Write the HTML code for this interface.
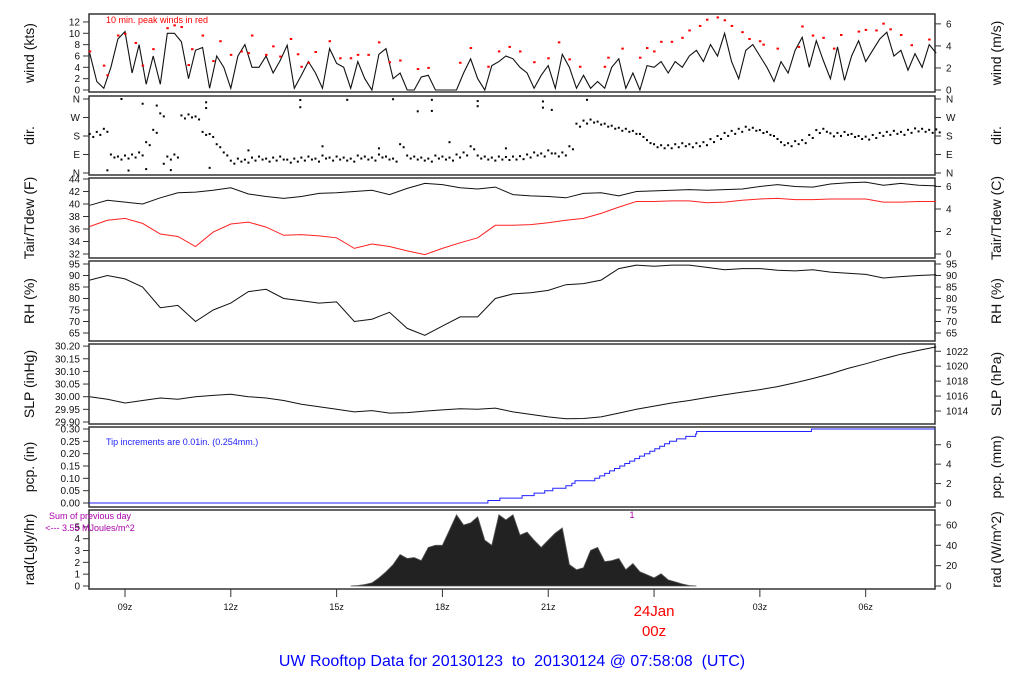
<!DOCTYPE html>
<html><head><meta charset="utf-8"><style>
html,body{margin:0;padding:0;background:#fff;}
svg{display:block;font-family:"Liberation Sans",sans-serif;}
text{white-space:pre;}
</style></head><body>
<svg id="chart" width="1024" height="700" viewBox="0 0 1024 700" xmlns="http://www.w3.org/2000/svg"></svg>
<script>
// ---- data (hours since 00z Jan 23) ----
const windStart = 8.0, windStep = 0.2;
const windKts = [6.5,1.5,0.3,4,9, 10.3,3,8,1,6, 1,10,10,8.5,2, 7,7.5,0.3,6,4, 0.3,6,8,4,4, 6,3,5.2,7.9,0.3,
 2.6,5,3,0.3,7.3, 4.7,4,0.3,5,2, 0,6.3,7.3,2,3, 0,0,2.3,2.6,0, 0,0,0,3,5.5, 2,0,4.3,5,6, 5.5,4,3,0.3,2.6,
 4.3,0.3,6.3,4,0.3, 2.6,0.3,1.5,0.3,4, 5.5,0.3,3,0,4.3, 4,5,3,5,4, 6,7,5,8,6, 10,5,2,7,8, 6,4,1.5,5,3,
 7,9.3,4,8.7,5.2, 2,7.6,1.7,6,8.7, 5,7,9,10.2,6, 7,3.5,6.4,4,8, 6.5];
const peakHours = [8.0,8.4,8.5,8.8,9.0,9.3,9.5,9.8,10.2,10.4,10.6,10.8,10.9,11.2,11.5,11.7,12.0,12.3,12.5,12.6,13.0,13.2,13.4,13.7,13.9,
 14.0,14.2,14.4,14.8,15.1,15.4,15.6,15.9,16.2,16.5,16.8,17.3,17.6,18.5,18.8,19.3,19.6,19.9,20.2,20.6,21.0,21.3,21.6,21.9,22.6,22.7,23.1,23.6,23.8,24.0,24.2,
 24.5,24.8,25.0,25.3,25.5,25.8,26.0,26.2,26.5,26.7,27.0,27.1,27.5,28.1,28.2,28.5,28.8,29.1,29.3,29.8,30.0,30.3,30.5,30.7,31.0,31.3,31.8];
const peakKts = [6.8,4.3,2.6,9.6,9.9,8.3,4.3,7.2,10.9,11.4,11.1,4.4,7.2,9.6,5.1,8.6,6.2,6.8,6.5,9.6,6.2,7.7,5.9,9.0,6.3,
 4.1,4.8,6.7,8.6,5.6,5.6,6.2,6.2,8.4,4.9,5.2,3.7,3.9,4.8,7.4,4.1,6.8,7.6,6.8,4.9,5.6,8.4,5.4,4.1,4.1,5.7,7.3,5.7,7.4,6.8,8.5,
 8.5,9.2,10.5,11.3,12.4,12.8,12.3,11.3,10.2,9.0,8.6,8.0,7.3,7.6,11.2,9.6,9.2,7.3,9.7,10.3,10.6,10.5,11.7,10.7,9.7,7.9,8.9];
const dirDeg = [190,200,215,90,80, 85,90,100,150,210, 290,80,90,280,285, 275,200,190,140,100, 60,70,65,75,80,
 70,75,80,65,70, 75,80,70,85,75, 80,75,70,85,80, 75,90,80,70,140, 85,80,75,70,85, 80,75,90,100,130,
 85,80,75,80,78, 80,82,90,100,95, 110,95,100,130,240, 255,260,250,240,230, 220,215,205,190,160,
 140,135,135,140,145, 140,145,150,165,180, 195,205,215,225,220, 209,200,180,150,145, 155,160,185,209,215,
 193,195,200,190,180, 177,185,195,200,205, 200,210,217,215,210, 212];
const dirOutHours = [8.9,9.5,9.9,11.3,11.3,13.97,13.97,15.3,16.6,17.3,17.7,17.7,19.0,19.0,20.85,20.85,21.1,22.1,8.5,9.1,10.3,9.6,11.4,10.1,12.5,14.6,16.2,18.2,19.8];
const dirOutDeg  = [360,337,328,344,316,355,320,356,359,300,356,302,350,325,348,318,307,356,13,12,14,19,25,45,110,130,120,150,120];
const tStart = 8.0, tStep = 0.5;
const tairF = [39.8,40.6,40.3,40.0,41.0,41.8,41.9,42.2,42.6,41.6,41.2,40.9,41.2,41.7,41.8,42.0,42.2,41.5,42.5,43.3,43.1,42.6,42.4,42.7,41.5,41.3,41.2,41.0,41.7,41.8,41.3,42.0,42.1,42.2,42.3,42.2,42.3,42.4,42.8,43.1,42.8,42.7,43.2,43.4,43.5,43.0,43.3,43.0,42.9];
const tdewF = [36.4,37.4,37.7,36.9,35.2,34.8,33.2,35.5,36.8,37.1,36.3,35.0,35.1,34.9,34.6,32.9,33.6,33.2,32.5,31.9,32.9,33.8,34.6,36.6,36.6,36.7,37.0,37.4,37.7,38.5,39.5,40.4,40.4,40.5,40.5,40.2,40.3,40.6,40.8,40.9,40.7,40.7,40.8,40.8,40.8,40.3,40.3,40.4,40.4];
const rhPct = [88,90,88.5,85,76,77,70,75,78,83,84,80,79,78,78.5,70,71,74,67,64,68,72,72,80,82,82.5,83.5,86,86.5,88,93,94.5,94,94.5,94.5,93.5,92.5,93,93,92.3,92,92.5,91.5,91,90.5,88.9,89.5,90,90.3];
const slpIn = [30.00,29.99,29.975,29.985,29.995,29.99,30.0,30.005,30.01,30.0,29.995,29.985,29.97,29.96,29.95,29.94,29.945,29.935,29.937,29.943,29.948,29.952,29.95,29.955,29.94,29.93,29.92,29.913,29.914,29.92,29.935,29.95,29.963,29.975,29.985,29.997,30.008,30.018,30.028,30.04,30.055,30.072,30.09,30.112,30.13,30.15,30.168,30.183,30.197];
const pcpHours = [19.29,19.63,20.26,20.6,20.9,21.13,21.5,21.67,21.76,22.32,22.46,22.6,22.74,22.88,23.03,23.17,23.31,23.45,23.59,23.73,23.88,24.02,24.16,24.3,24.44,24.64,24.9,25.18,25.21,28.46];
const pcpIn = [0.01,0.02,0.03,0.04,0.05,0.06,0.07,0.08,0.09,0.10,0.11,0.12,0.13,0.14,0.15,0.16,0.17,0.18,0.19,0.20,0.21,0.22,0.23,0.24,0.25,0.26,0.27,0.28,0.29,0.30];
const radStart = 15.4, radStep = 0.2;
const radW = [0,0.5,1.5, 3,8,14,21,31, 27,28,25,38,40, 40,55,70,60,62, 68,45,40,70,65, 70,50,53,45,38, 45,52,57,21,16, 18,35,38,24,25, 27,16,22,14,11, 8,12,6,4,2, 0.5,0];
const xTickHours = [9,12,15,18,21,24,27,30];
const xTickLabels = ["09z","12z","15z","18z","21z","24Jan","03z","06z"];

// ---- geometry ----
const X0=89, X1=935;
const xs = h => 125 + (h-9)*35.27;
const svg = document.getElementById('chart');
const NS='http://www.w3.org/2000/svg';
function mk(tag, attrs, parent){const e=document.createElementNS(NS,tag);for(const k in attrs)e.setAttribute(k,attrs[k]);(parent||svg).appendChild(e);return e;}
function txt(s, attrs, parent){const e=mk('text',attrs,parent);e.textContent=s;return e;}

const panels = [
 {name:'wind',top:14,bot:92,lt:'wind (kts)',rt:'wind (m/s)'},
 {name:'dir',top:96,bot:175,lt:'dir.',rt:'dir.'},
 {name:'temp',top:178,bot:258,lt:'Tair/Tdew (F)',rt:'Tair/Tdew (C)'},
 {name:'rh',top:261,bot:341,lt:'RH (%)',rt:'RH (%)'},
 {name:'slp',top:344,bot:424,lt:'SLP (inHg)',rt:'SLP (hPa)'},
 {name:'pcp',top:427,bot:507,lt:'pcp. (in)',rt:'pcp. (mm)'},
 {name:'rad',top:510,bot:589,lt:'rad(Lgly/hr)',rt:'rad (W/m^2)'}
];
const scales = {
 wind: v => 90 - v*5.67,
 windms: v => 90 - v*1.944*5.67,
 dir: v => 173 - v/360*74,
 temp: v => 254 - (v-32)*6.25,
 tempC: v => 254 - (v*9/5)*6.25,
 rh: v => 333 - (v-65)*2.3,
 slp: v => 422 - (v-29.90)*253,
 hpa: v => 422 - (v/33.8639-29.90)*253,
 pcp: v => 503 - v*246.7,
 mm: v => 503 - (v/25.4)*246.7,
 rad: v => 586 - v*1.017,
 lgly: v => 586 - v*11.63*1.017
};
const leftTicks = {
 wind:{s:'wind',v:[0,2,4,6,8,10,12]},
 dir:{s:'dir',v:[0,90,180,270,360],l:['N','E','S','W','N']},
 temp:{s:'temp',v:[32,34,36,38,40,42,44]},
 rh:{s:'rh',v:[65,70,75,80,85,90,95]},
 slp:{s:'slp',v:[29.90,29.95,30.00,30.05,30.10,30.15,30.20],f:2},
 pcp:{s:'pcp',v:[0,0.05,0.10,0.15,0.20,0.25,0.30],f:2},
 rad:{s:'lgly',v:[0,1,2,3,4,5]}
};
const rightTicks = {
 wind:{s:'windms',v:[0,2,4,6]},
 dir:{s:'dir',v:[0,90,180,270,360],l:['N','E','S','W','N']},
 temp:{s:'tempC',v:[0,2,4,6]},
 rh:{s:'rh',v:[65,70,75,80,85,90,95]},
 slp:{s:'hpa',v:[1014,1016,1018,1020,1022]},
 pcp:{s:'mm',v:[0,2,4,6]},
 rad:{s:'rad',v:[0,20,40,60]}
};

panels.forEach(p=>{
  const g = mk('g',{});
  
  
  const fr = mk('rect',{x:X0,y:p.top,width:X1-X0,height:p.bot-p.top,fill:'none',stroke:'#333','stroke-width':1.5},g);
  
  
  const lt = leftTicks[p.name], rt = rightTicks[p.name];
  lt.v.forEach((v,i)=>{
    const y = scales[lt.s](v);
    mk('line',{x1:83,x2:X0,y1:y,y2:y,stroke:'#333'},g);
    const t = txt(lt.l?lt.l[i]:(lt.f?v.toFixed(lt.f):String(v)),{x:80,y:y+3.5,'font-size':10,'text-anchor':'end',fill:'#111'},g);
    
    
  });
  rt.v.forEach((v,i)=>{
    const y = scales[rt.s](v);
    mk('line',{x1:X1,x2:941,y1:y,y2:y,stroke:'#333'},g);
    const t = txt(rt.l?rt.l[i]:String(v),{x:946,y:y+3.5,'font-size':10,fill:'#111'},g);
    
    
  });
  const cy=(p.top+p.bot)/2;
  const a = txt(p.lt,{x:0,y:0,'font-size':14,'text-anchor':'middle',fill:'#111',transform:`translate(34,${cy}) rotate(-90)`},g);
  
  
  const b = txt(p.rt,{x:0,y:0,'font-size':14,'text-anchor':'middle',fill:'#111',transform:`translate(1001,${cy}) rotate(-90)`},g);
  
  
});

function line(vals, start, step, sc, color, name, w){
  const d = vals.map((v,i)=>(i?'L':'M')+xs(start+i*step).toFixed(1)+','+sc(v).toFixed(1)).join('');
  const e = mk('path',{d:d,fill:'none',stroke:color,'stroke-width':w||1});
  
  
}
// wind
line(windKts, windStart, windStep, scales.wind, '#111', 'wind-speed-line', 1.1);
peakHours.forEach((h,i)=>{
  const e = mk('rect',{x:xs(h)-1,y:scales.wind(peakKts[i])-1,width:2.5,height:2,fill:'#f00'});
  
  
});
// direction
dirDeg.forEach((d,i)=>{
  const e = mk('rect',{x:xs(windStart+i*windStep)-1,y:scales.dir(d)-1,width:2,height:2,fill:'#000'});
  
  
  const e2 = mk('rect',{x:xs(windStart+i*windStep+0.1)-1,y:scales.dir(d)+2,width:2,height:2,fill:'#000'});
  
  
});
dirOutHours.forEach((h,i)=>{
  const e = mk('rect',{x:xs(h)-1,y:scales.dir(dirOutDeg[i])-1,width:2,height:2,fill:'#000'});
  
  
});
// temps, rh, slp
line(tairF, tStart, tStep, scales.temp, '#111', 'tair-line');
line(tdewF, tStart, tStep, scales.temp, '#f22', 'tdew-line');
line(rhPct, tStart, tStep, scales.rh, '#111', 'rh-line');
line(slpIn, tStart, tStep, scales.slp, '#111', 'slp-line');
// precip step line
(function(){
  let d='M'+X0+','+scales.pcp(0);
  let prev=0;
  pcpHours.forEach((h,i)=>{d+='L'+xs(h).toFixed(1)+','+scales.pcp(prev).toFixed(1)+'L'+xs(h).toFixed(1)+','+scales.pcp(pcpIn[i]).toFixed(1);prev=pcpIn[i];});
  d+='L'+X1+','+scales.pcp(prev).toFixed(1);
  const e = mk('path',{d:d,fill:'none',stroke:'#22f','stroke-width':1});
  
  
})();
// radiation area
(function(){
  let d='M'+xs(radStart).toFixed(1)+','+scales.rad(0);
  radW.forEach((v,i)=>{d+='L'+xs(radStart+i*radStep).toFixed(1)+','+scales.rad(v).toFixed(1);});
  d+='L'+xs(radStart+(radW.length-1)*radStep).toFixed(1)+','+scales.rad(0)+'Z';
  const e = mk('path',{d:d,fill:'#222',stroke:'#555','stroke-width':0.8});
  
  
})();
// x axis
xTickHours.forEach((h,i)=>{
  const x=xs(h);
  mk('line',{x1:x,x2:x,y1:589,y2:597,stroke:'#333'});
  if(h===24){
    const a=txt('24Jan',{x:x,y:616,'font-size':15,'text-anchor':'middle',fill:'#f00'});
    
    
    const b=txt('00z',{x:x,y:636,'font-size':15,'text-anchor':'middle',fill:'#f00'});
    
    
  } else {
    const a=txt(xTickLabels[i],{x:x,y:610,'font-size':9,'text-anchor':'middle',fill:'#111'});
    
    
  }
});
// annotations
[['10 min. peak winds in red',106,23,9,'#f00','peak-wind-note','start'],
 ['Tip increments are 0.01in. (0.254mm.)',106,445,9,'#22f','precip-note','start'],
 ['Sum of previous day',90,519,9,'#a0a','rad-sum-note','middle'],
 ['<--- 3.55 MJoules/m^2',90,531,9,'#a0a','rad-sum-value','middle'],
 ['1',632,518,9,'#a0a','rad-marker','middle'],
 ['UW Rooftop Data for 20130123  to  20130124 @ 07:58:08  (UTC)',512,666,16,'#00f','chart-title','middle']
].forEach(a=>{
  const e=txt(a[0],{x:a[1],y:a[2],'font-size':a[3],fill:a[4],'text-anchor':a[6]});
  
  
});
</script>
</body></html>
